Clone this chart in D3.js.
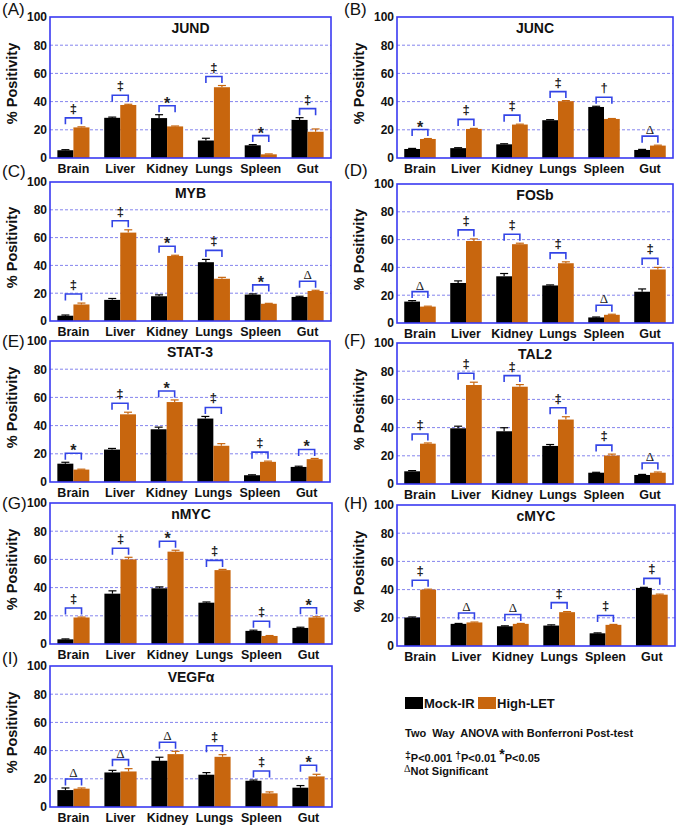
<!DOCTYPE html>
<html>
<head>
<meta charset="utf-8">
<script src="https://cdn.jsdelivr.net/npm/d3@7"></script>
<style>
  body { margin: 0; background: #fff; }
  svg { display: block; font-family: "Liberation Sans", Arial, sans-serif; }
</style>
</head>
<body>
<svg id="chart" width="685" height="825"></svg>
<script>
// ---------------- DATA ----------------
const categories = ["Brain", "Liver", "Kidney", "Lungs", "Spleen", "Gut"];
const panelLabels = ["(A)", "(B)", "(C)", "(D)", "(E)", "(F)", "(G)", "(H)", "(I)"];
const genes = ["JUND", "JUNC", "MYB", "FOSb", "STAT-3", "TAL2", "nMYC", "cMYC", "VEGFα"];
const yTicks = [0, 20, 40, 60, 80, 100];
const seriesNames = ["Mock-IR", "High-LET"];

const mockIR = [
  [5.5, 28.5, 28.3, 12.4, 9.0, 27.0],
  [6.4, 7.0, 9.7, 26.8, 36.2, 5.7],
  [3.8, 15.2, 17.8, 42.3, 19.0, 17.3],
  [15.4, 28.8, 33.6, 27.0, 4.0, 22.5],
  [13.0, 23.0, 37.4, 45.0, 4.8, 10.7],
  [9.0, 39.5, 37.4, 27.0, 8.0, 6.4],
  [3.3, 35.7, 39.5, 29.3, 9.3, 11.4],
  [20.2, 15.7, 14.0, 14.5, 9.0, 41.2],
  [12.0, 24.5, 32.8, 22.9, 18.6, 13.7]
];
const mockErr = [
  [0.4, 0.5, 2.4, 1.6, 0.5, 1.6],
  [0.4, 0.3, 0.4, 0.4, 0.5, 0.4],
  [0.5, 1.0, 1.0, 2.0, 0.5, 0.5],
  [0.7, 1.5, 2.0, 0.4, 0.3, 2.0],
  [1.0, 0.8, 1.5, 1.5, 0.3, 0.5],
  [0.5, 1.5, 2.5, 1.0, 0.3, 0.4],
  [0.3, 2.0, 1.0, 0.5, 0.5, 0.5],
  [0.4, 0.3, 0.3, 0.5, 0.3, 0.4],
  [1.5, 1.5, 2.5, 1.5, 0.5, 1.5]
];
const highLET = [
  [21.7, 37.6, 22.4, 50.2, 2.6, 18.6],
  [13.5, 20.6, 23.7, 40.3, 27.7, 8.8],
  [11.9, 63.6, 46.8, 30.4, 12.4, 21.6],
  [11.8, 59.0, 56.7, 43.0, 5.9, 38.5],
  [8.8, 48.0, 56.7, 25.7, 14.3, 16.2],
  [28.6, 70.2, 69.0, 45.7, 20.2, 8.0],
  [18.8, 60.0, 65.5, 52.4, 5.7, 18.8],
  [40.0, 16.7, 15.7, 24.0, 15.0, 36.4],
  [13.0, 25.2, 37.5, 35.6, 9.7, 21.7]
];
const highErr = [
  [0.4, 0.5, 0.3, 1.2, 0.3, 2.0],
  [0.3, 0.4, 0.3, 0.4, 0.3, 0.3],
  [1.0, 2.0, 0.5, 1.0, 0.3, 0.5],
  [0.3, 1.5, 0.7, 1.0, 0.4, 1.5],
  [0.3, 1.5, 1.5, 1.5, 0.5, 0.5],
  [0.5, 2.0, 1.5, 2.0, 1.0, 0.5],
  [0.3, 1.5, 1.0, 0.5, 0.3, 0.5],
  [0.3, 0.3, 0.3, 0.4, 0.3, 0.4],
  [0.5, 2.0, 2.0, 1.5, 1.0, 1.5]
];
const significance = [
  ["‡", "‡", "*", "‡", "*", "‡"],
  ["*", "‡", "‡", "‡", "†", "Δ"],
  ["‡", "‡", "*", "‡", "*", "Δ"],
  ["Δ", "‡", "‡", "‡", "Δ", "‡"],
  ["*", "‡", "*", "‡", "‡", "*"],
  ["‡", "‡", "‡", "‡", "‡", "Δ"],
  ["‡", "‡", "*", "‡", "‡", "*"],
  ["‡", "Δ", "Δ", "‡", "‡", "‡"],
  ["Δ", "Δ", "Δ", "‡", "‡", "*"]
];

// ---------------- LAYOUT / STYLE ----------------
const boxes = [
  [50, 17, 331, 158], [397, 17, 673, 158],
  [50, 182, 331, 321], [397, 184, 673, 323],
  [50, 341, 330, 482], [397, 343, 673, 484],
  [50, 503, 332, 644], [397, 505, 675, 646],
  [50, 666, 332, 807]
];
const labelPos = [
  [2, 15], [344, 15], [2, 177], [344, 176], [2, 347], [344, 346], [2, 509], [344, 509], [2, 664]
];
const colors = ["#000000", "#c8660e"];
const blue = "#3a3af2";
const gridBlue = "#8585ee";
const bracketBlue = "#3344e6";

const svg = d3.select("#chart");

boxes.forEach((b, pi) => {
  const [x0, y0, x1, y1] = b;
  const g = svg.append("g");
  const x = d3.scaleBand().domain(categories).range([x0, x1]).padding(0);
  const xs = d3.scaleBand().domain(seriesNames).range([0, x.bandwidth()]).paddingInner(0).paddingOuter(0.46);
  const y = d3.scaleLinear().domain([0, 100]).range([y1, y0]);

  // gridlines
  g.selectAll("line.grid").data(yTicks.filter(t => t > 0 && t < 100)).enter()
    .append("line")
    .attr("x1", x0).attr("x2", x1)
    .attr("y1", d => y(d)).attr("y2", d => y(d))
    .attr("stroke", gridBlue).attr("stroke-width", 1)
    .attr("stroke-dasharray", "3,2");

  const rows = categories.map((c, i) => ({
    cat: c,
    vals: [
      { s: seriesNames[0], v: mockIR[pi][i], e: mockErr[pi][i], c: colors[0] },
      { s: seriesNames[1], v: highLET[pi][i], e: highErr[pi][i], c: colors[1] }
    ],
    sig: significance[pi][i]
  }));

  const grp = g.selectAll("g.cat").data(rows).enter().append("g")
    .attr("transform", d => `translate(${x(d.cat)},0)`);

  // error bars (upper)
  grp.selectAll("g.err").data(d => d.vals).enter().append("g").each(function (d) {
    const cx = xs(d.s) + xs.bandwidth() / 2;
    const e = d3.select(this);
    e.append("line").attr("x1", cx).attr("x2", cx)
      .attr("y1", y(d.v)).attr("y2", y(d.v + d.e))
      .attr("stroke", d.c).attr("stroke-width", 1.2);
    e.append("line").attr("x1", cx - 4).attr("x2", cx + 4)
      .attr("y1", y(d.v + d.e)).attr("y2", y(d.v + d.e))
      .attr("stroke", d.c).attr("stroke-width", 1.2);
  });

  // bars
  grp.selectAll("rect").data(d => d.vals).enter().append("rect")
    .attr("x", d => xs(d.s))
    .attr("width", xs.bandwidth())
    .attr("y", d => y(d.v))
    .attr("height", d => y(0) - y(d.v))
    .attr("fill", d => d.c);

  // significance brackets
  grp.each(function (d) {
    const top = d3.max(d.vals, v => v.v + v.e);
    const by = y(top) - 9;
    const lx = xs(seriesNames[0]) + xs.bandwidth() / 2;
    const rx = xs(seriesNames[1]) + xs.bandwidth() / 2;
    const s = d3.select(this);
    s.append("path")
      .attr("d", `M${lx},${by + 6.5}V${by}H${rx}V${by + 6.5}`)
      .attr("fill", "none").attr("stroke", bracketBlue).attr("stroke-width", 1.6);
    const isStar = d.sig === "*";
    const isDelta = d.sig === "Δ";
    s.append("text")
      .attr("x", (lx + rx) / 2)
      .attr("y", isStar ? by + 3 : (isDelta ? by - 2 : by - 5))
      .attr("text-anchor", "middle")
      .attr("font-size", isStar ? 16 : 13)
      .attr("font-weight", isDelta ? "normal" : "bold")
      .attr("font-family", isDelta ? "'Liberation Serif', serif" : "'Liberation Sans', Arial, sans-serif")
      .attr("fill", "#222")
      .text(d.sig);
  });

  // frame
  g.append("rect")
    .attr("x", x0).attr("y", y0).attr("width", x1 - x0).attr("height", y1 - y0)
    .attr("fill", "none").attr("stroke", blue).attr("stroke-width", 1.6);

  // y axis labels
  const ya = d3.axisLeft(y).tickValues(yTicks).tickSize(0).tickPadding(3);
  const yg = g.append("g").attr("transform", `translate(${x0},0)`).call(ya);
  yg.select(".domain").remove();
  yg.selectAll("text").attr("font-size", 12).attr("font-weight", "bold")
    .attr("font-family", "'Liberation Sans', Arial, sans-serif").attr("fill", "#111");

  // x axis labels
  const xa = d3.axisBottom(x).tickSize(0).tickPadding(6);
  const xg = g.append("g").attr("transform", `translate(0,${y1})`).call(xa);
  xg.select(".domain").remove();
  xg.selectAll("text").attr("font-size", 12.5).attr("font-weight", "bold")
    .attr("font-family", "'Liberation Sans', Arial, sans-serif").attr("fill", "#111");

  // title
  g.append("text")
    .attr("x", (x0 + x1) / 2).attr("y", y0 + 16)
    .attr("text-anchor", "middle").attr("font-size", 14).attr("font-weight", "bold")
    .attr("fill", "#111").text(genes[pi]);

  // y axis title
  g.append("text")
    .attr("transform", `translate(${x0 - 33},${(y0 + y1) / 2 - 4}) rotate(-90)`)
    .attr("text-anchor", "middle").attr("font-size", 14.5).attr("font-weight", "bold")
    .attr("fill", "#111").text("% Positivity");

  // panel label
  svg.append("text")
    .attr("x", labelPos[pi][0]).attr("y", labelPos[pi][1])
    .attr("font-size", 17).attr("fill", "#111").text(panelLabels[pi]);
});

// ---------------- LEGEND ----------------
const leg = svg.append("g");
const legX = [405, 478];
seriesNames.forEach((n, i) => {
  leg.append("rect").attr("x", legX[i]).attr("y", 697).attr("width", 18).attr("height", 12)
    .attr("fill", colors[i]);
  leg.append("text").attr("x", legX[i] + 19).attr("y", 708)
    .attr("font-size", 13).attr("font-weight", "bold").attr("fill", "#111").text(n);
});
leg.append("text").attr("x", 405).attr("y", 737)
  .attr("font-size", 11).attr("font-weight", "bold").attr("fill", "#111")
  .attr("xml:space", "preserve")
  .text("Two  Way  ANOVA with Bonferroni Post-test");

const pLine = leg.append("text").attr("x", 405).attr("y", 762)
  .attr("font-size", 11).attr("font-weight", "bold").attr("fill", "#111");
[["‡", "P<0.001 "], ["†", "P<0.01 "], ["*", "P<0.05"]].forEach(([s, t], i) => {
  pLine.append("tspan").attr("dy", -3).attr("font-size", i === 2 ? 14 : 10.5).text((i > 0 ? " " : "") + s);
  pLine.append("tspan").attr("dy", 3).text(t);
});
const nsLine = leg.append("text").attr("x", 404).attr("y", 775)
  .attr("font-size", 11).attr("font-weight", "bold").attr("fill", "#111");
nsLine.append("tspan").attr("dy", -3).attr("font-size", 10).attr("font-weight", "normal")
  .attr("font-family", "'Liberation Serif', serif").text("Δ");
nsLine.append("tspan").attr("dy", 3).text("Not Significant");
</script>
</body>
</html>
